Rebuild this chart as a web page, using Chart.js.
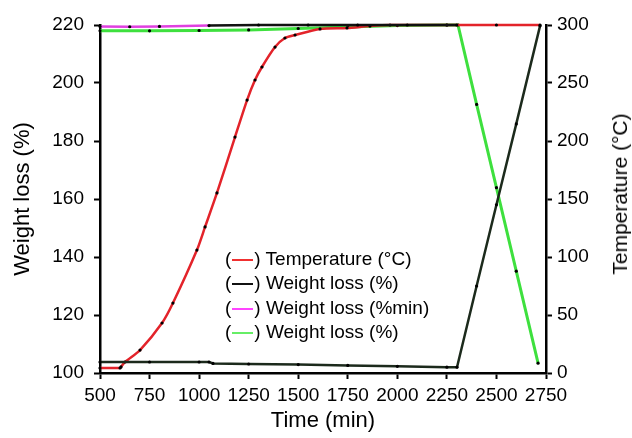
<!DOCTYPE html>
<html>
<head>
<meta charset="utf-8">
<script src="https://cdn.jsdelivr.net/npm/chart.js@4"></script>
<style>
  html, body { margin: 0; padding: 0; background: #fff; }
  #wrap { position: relative; width: 632px; height: 438px; }
  #legend {
    position: absolute; left: 225px; top: 247px;
    font-family: "Liberation Sans", Arial, sans-serif; font-size: 19px; color: #000;
  }
  #legend .row { height: 24.3px; line-height: 24px; white-space: nowrap; }
  #legend .swatch { display: inline-block; width: 21px; height: 2px; vertical-align: middle; margin: 0 1px; }
  #right-title {
    position: absolute; left: 620px; top: 194px;
    transform: translate(-50%, -50%) rotate(-90deg);
    font-family: "Liberation Sans", Arial, sans-serif; font-size: 21px; color: #000;
    white-space: nowrap;
  }
</style>
</head>
<body>
<div id="wrap">
  <canvas id="chart" width="632" height="438"></canvas>
  <div id="legend"></div>
  <div id="right-title">Temperature (°C)</div>
</div>
<script>
// Temperature (right axis, °C)
const tempTime  = [500, 601, 606, 626, 702, 813, 868, 989, 1030, 1090, 1181, 1242, 1282, 1317, 1383, 1433, 1484, 1610, 1746, 1862, 1963, 2250, 2500, 2720];
const tempValue = [4.3, 4.3, 5.2, 9.5, 19.8, 43.1, 60.3, 106, 125.9, 155.2, 203.4, 235.3, 252.6, 263.8, 281, 288.8, 291.4, 296.6, 297.4, 299.1, 300, 300, 300, 300];

// Weight loss (%) black
const lossTime  = [500, 750, 1000, 1050, 1070, 1250, 1500, 1750, 2000, 2250, 2301, 2400, 2500, 2600, 2720];
const lossValue = [103.8, 103.8, 103.8, 103.8, 103.3, 103.1, 102.9, 102.6, 102.3, 102.0, 102.0, 130, 158, 185.9, 219.7];

// Weight loss (%min) magenta
const rateTime  = [500, 650, 800, 1050, 1300, 1550, 1800, 2050, 2300];
const rateValue = [219.5, 219.4, 219.5, 219.8, 220, 220, 220, 220, 220];

// Weight loss (%) green
const greenTime  = [500, 750, 1000, 1250, 1500, 1750, 2000, 2250, 2306, 2400, 2500, 2600, 2710];
const greenValue = [218, 218, 218.1, 218.3, 218.8, 219.3, 219.8, 220, 220, 192.6, 163.9, 135.1, 103.4];

const xTicks = [500, 750, 1000, 1250, 1500, 1750, 2000, 2250, 2500, 2750];
const leftTicks = [100, 120, 140, 160, 180, 200, 220];
const rightTicks = [0, 50, 100, 150, 200, 250, 300];

const FONT = '"Liberation Sans", Arial, sans-serif';

function toPoints(xs, ys) {
  return xs.map((x, i) => ({ x: x, y: ys[i] }));
}

const datasets = [
  {
    label: 'Temperature (°C)',
    data: toPoints(tempTime, tempValue),
    yAxisID: 'y2',
    borderColor: '#e3232a',
    legendColor: '#f03030',
    borderWidth: 2.5,
    tension: 0.25,
    order: 2
  },
  {
    label: 'Weight loss (%)',
    data: toPoints(lossTime, lossValue),
    yAxisID: 'y',
    borderColor: '#1c2a1c',
    legendColor: '#111',
    borderWidth: 2.5,
    order: 1
  },
  {
    label: 'Weight loss (%min)',
    data: toPoints(rateTime, rateValue),
    yAxisID: 'y',
    borderColor: '#e040e0',
    legendColor: '#ff44ff',
    borderWidth: 2.5,
    // past ~1050 min the top edge reads dark
    segment: { borderColor: ctx => ctx.p0.parsed.x >= 1050 ? '#111' : '#e040e0' },
    order: 0
  },
  {
    label: 'Weight loss (%)',
    data: toPoints(greenTime, greenValue),
    yAxisID: 'y',
    borderColor: '#3ee03e',
    legendColor: '#66ee66',
    borderWidth: 3,
    order: 3
  }
];

datasets.forEach(ds => {
  ds.showLine = true;
  ds.pointRadius = 1.6;
  ds.pointBackgroundColor = '#000';
  ds.pointBorderWidth = 0;
  ds.clip = 3;
});

function axisGrid() {
  return {
    display: true,
    drawOnChartArea: false,
    drawTicks: true,
    tickLength: 6,
    tickWidth: 2,
    tickColor: '#000'
  };
}

function axisBorder() {
  return { display: true, color: '#000', width: 2.5 };
}

function tickFont(pad) {
  return { color: '#000', font: { family: FONT, size: 19 }, padding: pad, maxRotation: 0, autoSkip: false, callback: v => String(v) };
}

new Chart(document.getElementById('chart'), {
  type: 'scatter',
  data: { datasets: datasets },
  options: {
    responsive: false,
    animation: false,
    layout: { padding: { top: 25, right: 0, bottom: 0, left: 0 } },
    plugins: { legend: { display: false }, tooltip: { enabled: false } },
    scales: {
      x: {
        type: 'linear',
        min: 500,
        max: 2750,
        afterBuildTicks: s => { s.ticks = xTicks.map(v => ({ value: v })); },
        ticks: tickFont(5),
        grid: axisGrid(),
        border: axisBorder(),
        title: { display: true, text: 'Time (min)', color: '#000', font: { family: FONT, size: 22 }, padding: { top: 10 } },
        afterFit: s => { s.height = 65; }
      },
      y: {
        position: 'left',
        min: 100,
        max: 220,
        afterBuildTicks: s => { s.ticks = leftTicks.map(v => ({ value: v })); },
        ticks: tickFont(10),
        grid: axisGrid(),
        border: axisBorder(),
        title: { display: true, text: 'Weight loss (%)', color: '#000', font: { family: FONT, size: 22 }, padding: { top: 10, bottom: 2 } },
        afterFit: s => { s.width = 100; }
      },
      y2: {
        position: 'right',
        min: 0,
        max: 300,
        afterBuildTicks: s => { s.ticks = rightTicks.map(v => ({ value: v })); },
        ticks: tickFont(5),
        grid: axisGrid(),
        border: axisBorder(),
        afterFit: s => { s.width = 86; }
      }
    }
  }
});

// legend drawn as html rows "(—) label"
const legend = document.getElementById('legend');
legend.innerHTML = datasets.map(ds =>
  `<div class="row">(<span class="swatch" style="background:${ds.legendColor}"></span>) ${ds.label}</div>`
).join('');
</script>
</body>
</html>
